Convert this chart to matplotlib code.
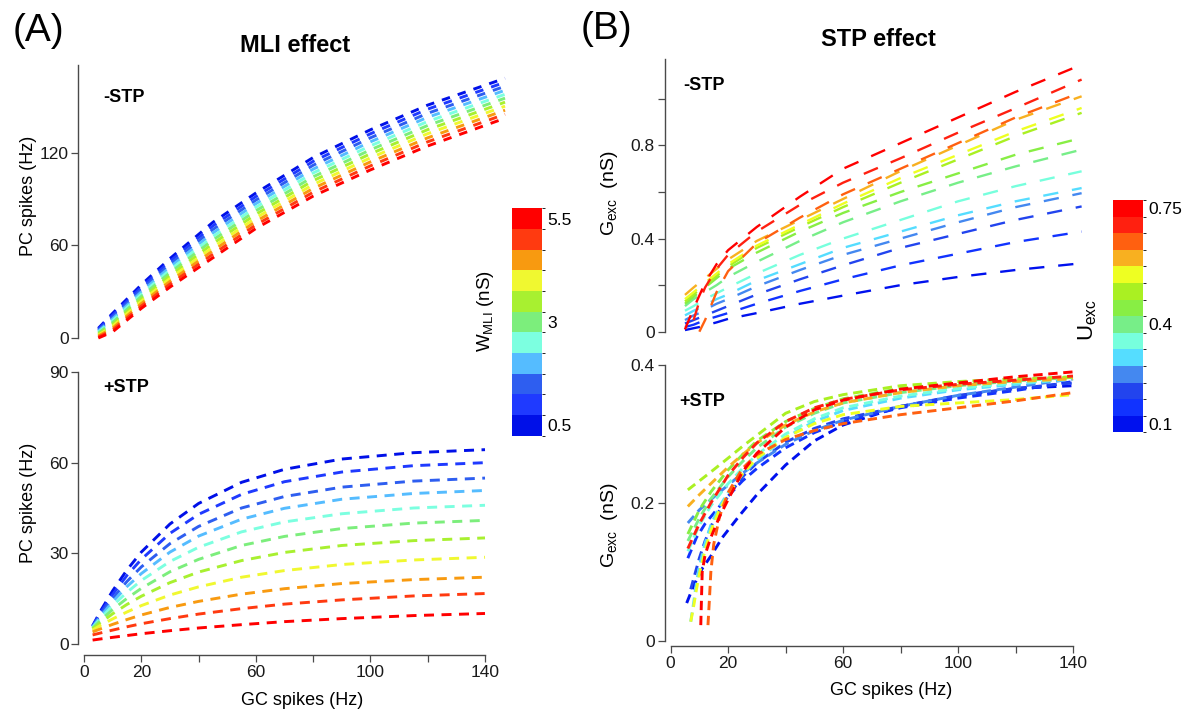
import numpy as np
import matplotlib
matplotlib.use('Agg')
import matplotlib.pyplot as plt
from matplotlib.colors import ListedColormap, BoundaryNorm
from matplotlib.cm import ScalarMappable

plt.rcParams['font.family'] = ['Liberation Sans', 'DejaVu Sans']
plt.rcParams['mathtext.fontset'] = 'custom'
plt.rcParams['mathtext.rm'] = 'Liberation Sans'
plt.rcParams['mathtext.it'] = 'Liberation Sans:italic'
plt.rcParams['mathtext.bf'] = 'Liberation Sans:bold'
plt.rcParams['lines.scale_dashes'] = False

# ---- parameter levels and their colours (low -> high) ----
w_mli = [0.5, 1.0, 1.5, 2.0, 2.5, 3.0, 3.5, 4.0, 4.5, 5.0, 5.5]
w_colors = ['#0010E8', '#1F3AFF', '#2E5EF0', '#55BCFF', '#7CFFE0', '#7CEE7C',
            '#A8F030', '#F0F830', '#F89A10', '#FF3A10', '#FF0000']
u_exc = [0.1, 0.15, 0.2, 0.25, 0.3, 0.35, 0.4, 0.45, 0.5, 0.55, 0.6, 0.65, 0.7, 0.75]
u_colors = ['#0011EE', '#1133FF', '#2244EE', '#4488F0', '#55DDFF', '#77FFDD', '#77EE88',
            '#88EE44', '#AAF022', '#EEFF22', '#F8B020', '#FF6010', '#FF2010', '#FF0000']

# ---- (A) MLI effect, -STP: PC rate vs GC rate, one row per W_MLI ----
top_a_gc = [5, 10, 20, 30, 45, 60, 80, 100, 120, 147]
top_a_rates = [
    [6.3, 16.0, 34.5, 51.5, 75.0, 94.0, 117.0, 135.0, 151.0, 168.4],
    [5.7, 14.8, 33.0, 49.7, 72.7, 91.7, 114.5, 132.4, 148.4, 165.8],
    [5.0, 13.6, 31.4, 47.8, 70.4, 89.4, 112.0, 129.8, 145.7, 163.2],
    [4.4, 12.4, 29.9, 46.0, 68.1, 87.1, 109.5, 127.2, 143.1, 160.6],
    [3.8, 11.2, 28.4, 44.1, 65.8, 84.8, 107.0, 124.6, 140.4, 158.0],
    [3.2, 10.0, 26.9, 42.3, 63.5, 82.5, 104.5, 122.0, 137.8, 155.5],
    [2.5, 8.8, 25.3, 40.4, 61.2, 80.2, 102.0, 119.4, 135.1, 152.9],
    [1.9, 7.6, 23.8, 38.6, 58.9, 77.9, 99.5, 116.8, 132.5, 150.3],
    [1.3, 6.4, 22.3, 36.7, 56.6, 75.6, 97.0, 114.2, 129.8, 147.7],
    [0.6, 5.2, 20.7, 34.9, 54.3, 73.3, 94.5, 111.6, 127.2, 145.1],
    [0.0, 4.0, 19.2, 33.0, 52.0, 71.0, 92.0, 109.0, 124.5, 142.5],
]

# ---- (A) MLI effect, +STP ----
bot_a_gc = [3, 6, 10, 15, 20, 30, 40, 55, 70, 90, 115, 140]
bot_a_rates = [
    [6.0, 11.3, 17.6, 24.5, 30.4, 39.7, 46.5, 53.5, 57.8, 61.2, 63.3, 64.3],
    [5.9, 10.7, 16.4, 22.7, 28.0, 36.6, 42.9, 49.5, 53.7, 56.9, 59.0, 60.0],
    [5.8, 10.0, 15.1, 20.7, 25.5, 33.2, 38.9, 45.0, 48.8, 51.9, 53.9, 54.9],
    [5.6, 9.4, 14.0, 19.0, 23.3, 30.4, 35.7, 41.3, 44.9, 47.9, 49.8, 50.8],
    [5.4, 8.7, 12.7, 17.1, 21.0, 27.3, 32.0, 37.1, 40.4, 43.1, 45.0, 45.9],
    [5.2, 8.0, 11.4, 15.1, 18.4, 23.9, 28.0, 32.6, 35.6, 38.2, 40.0, 40.9],
    [5.0, 7.2, 10.0, 13.1, 15.8, 20.3, 23.8, 27.6, 30.3, 32.6, 34.2, 35.1],
    [4.6, 6.3, 8.3, 10.6, 12.7, 16.2, 18.9, 22.1, 24.3, 26.3, 27.8, 28.7],
    [4.0, 5.1, 6.5, 8.1, 9.6, 12.1, 14.1, 16.5, 18.3, 20.0, 21.3, 22.1],
    [3.0, 3.7, 4.6, 5.7, 6.7, 8.4, 9.9, 11.7, 13.2, 14.6, 15.9, 16.7],
    [1.3, 1.7, 2.2, 2.8, 3.4, 4.4, 5.3, 6.4, 7.4, 8.4, 9.4, 10.1],
]

# ---- (B) STP effect, -STP: G_exc vs GC rate, one row per U_exc ----
nan = np.nan
top_b_gc = [5, 8, 10, 12, 16, 20, 30, 45, 60, 80, 100, 120, 143]
top_b_g = [
    [0.007, 0.015, 0.02, 0.027, 0.04, 0.055, 0.08, 0.12, 0.155, 0.2, 0.235, 0.265, 0.294],
    [0.02, 0.03, 0.04, 0.05, 0.065, 0.08, 0.12, 0.175, 0.225, 0.285, 0.335, 0.385, 0.43],
    [0.035, 0.05, 0.06, 0.07, 0.09, 0.11, 0.16, 0.225, 0.285, 0.36, 0.42, 0.48, 0.538],
    [0.05, 0.07, 0.08, 0.095, 0.12, 0.14, 0.195, 0.265, 0.33, 0.40, 0.47, 0.535, 0.595],
    [0.07, 0.09, 0.10, 0.115, 0.14, 0.16, 0.22, 0.29, 0.36, 0.43, 0.50, 0.56, 0.617],
    [0.09, 0.11, 0.125, 0.14, 0.165, 0.19, 0.25, 0.33, 0.40, 0.48, 0.56, 0.625, 0.689],
    [0.11, 0.14, 0.155, 0.17, 0.20, 0.235, 0.30, 0.39, 0.47, 0.56, 0.64, 0.71, 0.782],
    [0.12, 0.15, 0.17, 0.19, 0.23, 0.27, 0.34, 0.43, 0.51, 0.60, 0.68, 0.76, 0.832],
    [0.13, 0.16, 0.18, 0.20, 0.24, 0.28, 0.36, 0.45, 0.535, 0.64, 0.74, 0.84, 0.94],
    [0.14, 0.17, 0.19, 0.21, 0.25, 0.29, 0.37, 0.46, 0.55, 0.66, 0.76, 0.86, 0.961],
    [0.158, 0.19, 0.21, 0.23, 0.27, 0.31, 0.39, 0.48, 0.57, 0.69, 0.80, 0.91, 1.011],
    [nan, nan, 0.0, 0.05, 0.17, 0.26, 0.38, 0.49, 0.59, 0.70, 0.81, 0.92, 1.029],
    [nan, 0.05, 0.13, 0.19, 0.27, 0.33, 0.43, 0.545, 0.64, 0.745, 0.855, 0.96, 1.083],
    [0.01, 0.10, 0.155, 0.21, 0.29, 0.35, 0.45, 0.58, 0.70, 0.81, 0.92, 1.03, 1.147],
]

# ---- (B) STP effect, +STP (each U_exc curve sampled on its own GC rates) ----
bot_b_gc = [
    [5.6, 8, 11, 14, 18, 24, 30, 40, 50, 60, 80, 100, 120, 140],
    [6, 9, 12, 16, 20, 25, 30, 40, 50, 60, 80, 100, 120, 140],
    [7, 8, 10, 12, 15, 20, 25, 30, 40, 50, 60, 80, 100, 120, 140],
    [6, 10, 14, 20, 25, 30, 40, 50, 60, 80, 100, 120, 140],
    [7, 8, 9, 10, 12, 14, 17, 20, 25, 30, 40, 50, 60, 80, 100, 120, 140],
    [6, 10, 14, 20, 25, 30, 40, 50, 60, 80, 100, 120, 140],
    [6, 10, 14, 20, 25, 30, 40, 50, 60, 80, 100, 120, 140],
    [6, 10, 14, 20, 25, 30, 40, 50, 60, 80, 100, 120, 140],
    [6, 10, 14, 20, 25, 30, 40, 50, 60, 80, 100, 120, 140],
    [7, 8, 9, 10, 12, 14, 17, 20, 25, 30, 40, 50, 60, 80, 100, 120, 140],
    [6, 10, 14, 20, 25, 30, 40, 50, 60, 80, 100, 120, 140],
    [13, 13.5, 14, 15, 17, 20, 25, 30, 40, 50, 60, 80, 100, 120, 140],
    [6, 10, 14, 20, 25, 30, 40, 50, 60, 80, 100, 120, 140],
    [10.5, 10.8, 11, 12, 14, 17, 20, 25, 30, 40, 50, 60, 80, 100, 120, 140],
]
bot_b_g = [
    [0.055, 0.08, 0.105, 0.123, 0.15, 0.182, 0.212, 0.255, 0.29, 0.313, 0.34, 0.355, 0.366, 0.37],
    [0.12, 0.15, 0.17, 0.19, 0.21, 0.232, 0.25, 0.28, 0.302, 0.318, 0.338, 0.352, 0.363, 0.376],
    [0.075, 0.09, 0.12, 0.145, 0.175, 0.21, 0.238, 0.258, 0.288, 0.308, 0.322, 0.34, 0.356, 0.366, 0.374],
    [0.171, 0.19, 0.205, 0.226, 0.243, 0.258, 0.285, 0.305, 0.32, 0.34, 0.356, 0.368, 0.38],
    [0.028, 0.055, 0.085, 0.108, 0.142, 0.168, 0.195, 0.215, 0.242, 0.262, 0.295, 0.318, 0.334,
     0.352, 0.364, 0.372, 0.38],
    [0.13, 0.168, 0.196, 0.228, 0.25, 0.27, 0.30, 0.322, 0.338, 0.355, 0.366, 0.374, 0.38],
    [0.145, 0.178, 0.206, 0.238, 0.26, 0.28, 0.31, 0.33, 0.345, 0.36, 0.37, 0.377, 0.382],
    [0.155, 0.19, 0.216, 0.248, 0.27, 0.29, 0.318, 0.337, 0.351, 0.366, 0.374, 0.379, 0.383],
    [0.219, 0.232, 0.245, 0.265, 0.282, 0.298, 0.33, 0.347, 0.357, 0.37, 0.376, 0.38, 0.382],
    [0.028, 0.05, 0.075, 0.097, 0.132, 0.16, 0.19, 0.213, 0.242, 0.265, 0.295, 0.315, 0.328,
     0.34, 0.345, 0.35, 0.357],
    [0.195, 0.212, 0.228, 0.252, 0.27, 0.287, 0.313, 0.332, 0.345, 0.36, 0.37, 0.376, 0.38],
    [0.023, 0.06, 0.10, 0.14, 0.18, 0.215, 0.25, 0.27, 0.292, 0.305, 0.315, 0.328, 0.338, 0.348, 0.36],
    [0.134, 0.17, 0.20, 0.24, 0.265, 0.287, 0.318, 0.338, 0.35, 0.364, 0.372, 0.378, 0.384],
    [0.023, 0.07, 0.10, 0.125, 0.15, 0.18, 0.205, 0.245, 0.272, 0.31, 0.335, 0.349, 0.365, 0.374,
     0.383, 0.39],
]

x_ticks = [0, 20, 40, 60, 80, 100, 120, 140]
x_ticklabels = ['0', '20', '', '60', '', '100', '', '140']

W, H = 1201, 711
fig = plt.figure(figsize=(W / 100, H / 100), dpi=100)
spine_c = '#4a4a4a'
tick_fs = 12.5
label_fs = 13


def px_axes(x0, x1, y_top, y_bot):
    return fig.add_axes([x0 / W, 1 - y_bot / H, (x1 - x0) / W, (y_bot - y_top) / H])


def style(ax, ylim, yticks, yticklabels, with_x, left_out, bottom_out):
    ax.set_xlim(0, 140)
    ax.set_ylim(*ylim)
    for s in ['top', 'right']:
        ax.spines[s].set_visible(False)
    ax.spines['left'].set_position(('outward', left_out))
    ax.spines['left'].set_color(spine_c)
    ax.spines['left'].set_linewidth(1.0)
    if with_x:
        ax.spines['bottom'].set_position(('outward', bottom_out))
        ax.spines['bottom'].set_color(spine_c)
        ax.spines['bottom'].set_linewidth(1.0)
        ax.set_xticks(x_ticks)
        ax.set_xticklabels(x_ticklabels)
    else:
        ax.spines['bottom'].set_visible(False)
        ax.set_xticks([])
    ax.set_yticks(yticks)
    ax.set_yticklabels(yticklabels)
    ax.tick_params(direction='out', length=5, width=0.9, color=spine_c,
                   labelsize=tick_fs, pad=2, labelcolor='#1a1a1a')
    ax.patch.set_visible(False)


def curves(ax, xs, ys, colors, lw, dash):
    for k, y in enumerate(ys):
        x = xs[k] if isinstance(xs[0], list) else xs
        ax.plot(x, y, color=colors[k], lw=lw, ls=(0, dash), clip_on=False,
                dash_capstyle='butt')


# panel A
ax_a1 = px_axes(84, 485, 65, 338)
style(ax_a1, (0, 177), [0, 60, 120], ['0', '60', '120'], False, 4, 0)
curves(ax_a1, top_a_gc, top_a_rates, w_colors, 2.1, (6.1, 5.9))
ax_a1.set_ylabel('PC spikes (Hz)', fontsize=label_fs)
ax_a1.yaxis.set_label_coords(-0.118, 0.52)

ax_a2 = px_axes(84, 485, 372, 644)
style(ax_a2, (0, 90), [0, 30, 60, 90], ['0', '30', '60', '90'], True, 4, 8)
curves(ax_a2, bot_a_gc, bot_a_rates, w_colors, 2.1, (7.2, 5.4))
ax_a2.set_ylabel('PC spikes (Hz)', fontsize=label_fs)
ax_a2.yaxis.set_label_coords(-0.118, 0.52)
ax_a2.set_xlabel('GC spikes (Hz)', fontsize=label_fs)
ax_a2.xaxis.set_label_coords(0.545, -0.175)

# panel B
ax_b1 = px_axes(670.6, 1073, 59.3, 331.7)
style(ax_b1, (0, 1.17), [0, 0.2, 0.4, 0.6, 0.8, 1.0], ['0', '', '0.4', '', '0.8', ''],
      False, 4.3, 0)
curves(ax_b1, top_b_gc, top_b_g, u_colors, 1.7, (11, 10))
ax_b1.set_ylabel(r'G$_{\mathregular{exc}}$  (nS)', fontsize=14)
ax_b1.yaxis.set_label_coords(-0.125, 0.51)

ax_b2 = px_axes(670.6, 1073, 365, 641)
style(ax_b2, (0, 0.4), [0, 0.2, 0.4], ['0', '0.2', '0.4'], True, 4.3, 3.6)
curves(ax_b2, bot_b_gc, bot_b_g, u_colors, 2.1, (6.7, 4.1))
ax_b2.set_ylabel(r'G$_{\mathregular{exc}}$  (nS)', fontsize=14)
ax_b2.yaxis.set_label_coords(-0.125, 0.42)
ax_b2.set_xlabel('GC spikes (Hz)', fontsize=label_fs)
ax_b2.xaxis.set_label_coords(0.548, -0.148)

# stepped colour scales
def colour_scale(x0, x1, y_top, y_bot, levels, colors, ticks, ticklabels):
    cax = px_axes(x0, x1, y_top, y_bot)
    step = levels[1] - levels[0]
    bounds = [levels[0] - step / 2 + i * step for i in range(len(levels) + 1)]
    sm = ScalarMappable(norm=BoundaryNorm(bounds, len(colors)), cmap=ListedColormap(colors))
    cb = fig.colorbar(sm, cax=cax, ticks=ticks)
    cb.set_ticklabels(ticklabels)
    cb.outline.set_visible(False)
    cax.tick_params(length=0, labelsize=tick_fs, pad=4)
    return cb


colour_scale(511.7, 541.7, 208.3, 435.7, w_mli, w_colors, [0.5, 3, 5.5], ['0.5', '3', '5.5'])
colour_scale(1112.7, 1142.7, 200, 432.3, u_exc, u_colors, [0.1, 0.4, 0.75],
             ['0.1', '0.4', '0.75'])

fig.text(485 / W, 1 - 311 / H, r'W$_{\mathregular{MLI}}$ (nS)', rotation=90,
         ha='center', va='center', fontsize=13.5)
fig.text(1088 / W, 1 - 320 / H, r'U$_{\mathregular{exc}}$', rotation=90,
         ha='center', va='center', fontsize=16)

# titles, panel letters and condition tags
fig.text(295 / W, 1 - 45 / H, 'MLI effect', fontsize=17, fontweight='bold',
         ha='center', va='center')
fig.text(878 / W, 1 - 40 / H, 'STP effect', fontsize=17, fontweight='bold',
         ha='center', va='center')
fig.text(38 / W, 1 - 31 / H, '(A)', fontsize=28, ha='center', va='center')
fig.text(606 / W, 1 - 29 / H, '(B)', fontsize=28, ha='center', va='center')
for label, x, y in [('-STP', 103, 98), ('+STP', 103, 387), ('-STP', 683, 85), ('+STP', 679, 402)]:
    fig.text(x / W, 1 - y / H, label, fontsize=13, fontweight='bold', ha='left', va='center')

fig.savefig('out.png', dpi=100)
